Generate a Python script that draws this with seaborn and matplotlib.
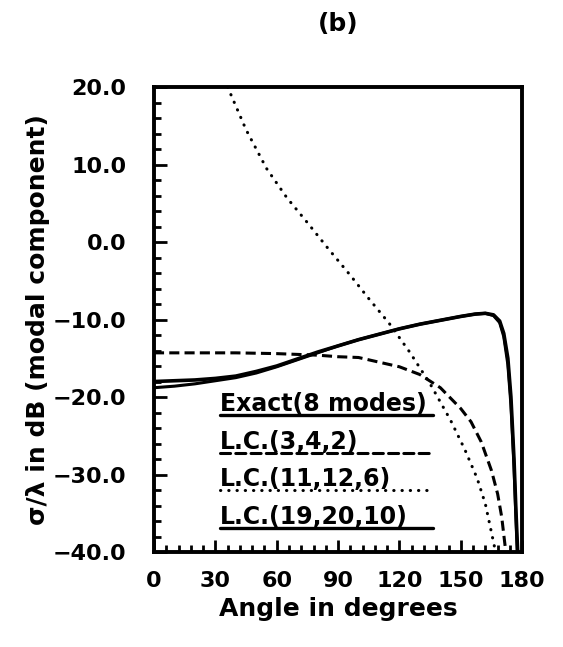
import numpy as np
import seaborn as sns
import pandas as pd
import matplotlib.pyplot as plt
from matplotlib.ticker import MultipleLocator, FuncFormatter

# Exact (8 modes)
exact_deg = [0, 10, 20, 30, 40, 50, 60, 70, 80, 90, 100, 110, 120, 130, 140, 150,
             157, 162, 166, 169, 171, 173, 174.5, 176, 177, 177.8]
exact_db = [-18.0, -17.9, -17.8, -17.6, -17.3, -16.7, -16.0, -15.1, -14.2, -13.4, -12.6,
            -11.9, -11.2, -10.6, -10.1, -9.6, -9.3, -9.2, -9.4, -10.2, -11.8, -15.0,
            -20.0, -28.0, -35.0, -40.0]

# L.C.(19,20,10)
lc19_deg = [0, 10, 20, 30, 40, 50, 60, 70, 80, 90, 100, 110, 120, 130, 140, 150,
            157, 162, 166, 169, 171, 173, 174.5, 176, 177, 177.6]
lc19_db = [-18.8, -18.6, -18.3, -17.9, -17.5, -16.9, -16.1, -15.2, -14.3, -13.4, -12.6,
           -11.9, -11.2, -10.6, -10.1, -9.6, -9.3, -9.2, -9.5, -10.4, -12.2, -15.8,
           -21.0, -29.0, -36.0, -40.0]

# L.C.(3,4,2)
lc3_deg = [0, 20, 40, 60, 80, 90, 100, 110, 120, 130, 140, 150, 155, 160, 165, 168, 170, 172]
lc3_db = [-14.3, -14.3, -14.3, -14.4, -14.6, -14.8, -14.9, -15.5, -16.1, -17.1, -18.8,
          -21.5, -23.2, -25.8, -29.5, -32.5, -35.5, -40.0]

# L.C.(11,12,6)
lc11_deg = [36, 45, 55, 65, 75, 85, 96, 105, 115, 125, 135, 145, 152, 158, 162, 165, 167]
lc11_db = [20.0, 14.5, 9.5, 5.7, 2.5, -0.8, -4.3, -7.3, -10.5, -14.2, -18.3, -23.0,
           -26.8, -30.5, -33.8, -37.5, -40.0]

labels = ["Exact(8 modes)", "L.C.(3,4,2)", "L.C.(11,12,6)", "L.C.(19,20,10)"]
x_ticks = [0, 30, 60, 90, 120, 150, 180]
y_ticks = [20, 10, 0, -10, -20, -30, -40]

sns.set_theme(style="ticks")
plt.rcParams['font.family'] = ['DejaVu Sans']
plt.rcParams['font.weight'] = 'bold'
plt.rcParams['text.color'] = 'black'
plt.rcParams['xtick.color'] = 'black'
plt.rcParams['ytick.color'] = 'black'
plt.rcParams['axes.labelcolor'] = 'black'

fig = plt.figure(figsize=(5.63, 6.47), dpi=100)
ax = fig.add_axes([0.2735, 0.1468, 0.654, 0.7187])

dotted = (0, (0.1, 2.6))
dashed = (0, (3.3, 1.7))

sns.lineplot(x=exact_deg, y=exact_db, ax=ax, color="black", lw=2.6, sort=False)
sns.lineplot(x=lc19_deg, y=lc19_db, ax=ax, color="black", lw=2.2, sort=False)
sns.lineplot(x=lc3_deg, y=lc3_db, ax=ax, color="black", lw=2.2, sort=False,
             linestyle=dashed)
sns.lineplot(x=lc11_deg, y=lc11_db, ax=ax, color="black", lw=2.2, sort=False,
             linestyle=dotted, dash_capstyle="round")

ax.set_xlim(0, 180)
ax.set_ylim(-40, 20)
ax.set_xticks(x_ticks)
ax.set_yticks(y_ticks)
ax.xaxis.set_minor_locator(MultipleLocator(6))
ax.yaxis.set_minor_locator(MultipleLocator(2))
ax.yaxis.set_major_formatter(FuncFormatter(lambda v, p: ("%.1f" % v).replace("-", "\u2212")))
ax.tick_params(which="both", direction="in", top=False, right=False, width=2,
               color="black", labelsize=16)
ax.tick_params(which="major", length=9)
ax.tick_params(which="minor", length=5)
ax.tick_params(axis="x", pad=14)
ax.tick_params(axis="y", pad=20)
for s in ax.spines.values():
    s.set_linewidth(2.8)
    s.set_color("black")
    s.set_visible(True)

ax.set_xlabel("Angle in degrees", fontsize=18, fontweight="bold", labelpad=4)
ax.set_ylabel("σ/λ in dB (modal component)", fontsize=18, fontweight="bold", labelpad=2)
fig.text(0.600, 0.963, "(b)", fontsize=18, fontweight="bold", ha="center", va="center")

# legend: text with the line drawn underneath
leg_y = [0.2946, 0.2129, 0.1333, 0.0516]
leg_styles = [("-", 2.4), (dashed, 2.2), (dotted, 2.2), ("-", 2.4)]
for lab, yy, (ls, lw) in zip(labels, leg_y, leg_styles):
    ax.text(0.179, yy + 0.009, lab, transform=ax.transAxes, fontsize=17,
            fontweight="bold", ha="left", va="baseline")
    ax.plot([0.179, 0.758], [yy, yy], transform=ax.transAxes, color="black",
            lw=lw, linestyle=ls, dash_capstyle="round")

plt.savefig("out.png", dpi=100)
